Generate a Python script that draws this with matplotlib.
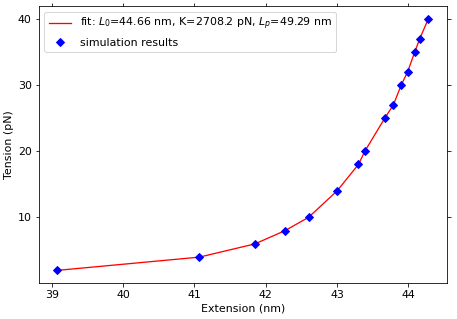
import matplotlib
matplotlib.use('Agg')
import matplotlib.pyplot as plt

# simulation results
extension = [39.08, 41.07, 41.85, 42.27, 42.60, 43.00, 43.30, 43.39,
             43.67, 43.79, 43.90, 43.99, 44.09, 44.16, 44.28]
tension = [2, 4, 6, 8, 10, 14, 18, 20, 25, 27, 30, 32, 35, 37, 40]

fit_label = r'fit: $L_0$=44.66 nm, K=2708.2 pN, $L_p$=49.29 nm'

fig = plt.figure(figsize=(457 / 72, 319 / 72), dpi=72)
ax = fig.add_axes([0.085, 0.113, 0.893, 0.868])

ax.plot(extension, tension, color='red', linewidth=1.3, label=fit_label)
ax.plot(extension, tension, 'D', color='blue', markersize=6, label='simulation results')

ax.set_xlabel('Extension (nm)', fontsize=11)
ax.set_ylabel('Tension (pN)', fontsize=11)
ax.set_yticks([10, 20, 30, 40])
ax.tick_params(top=True, right=True, direction='out', labelsize=11)
ax.legend(loc='upper left', fontsize=11)

fig.savefig('out.png', dpi=72)
